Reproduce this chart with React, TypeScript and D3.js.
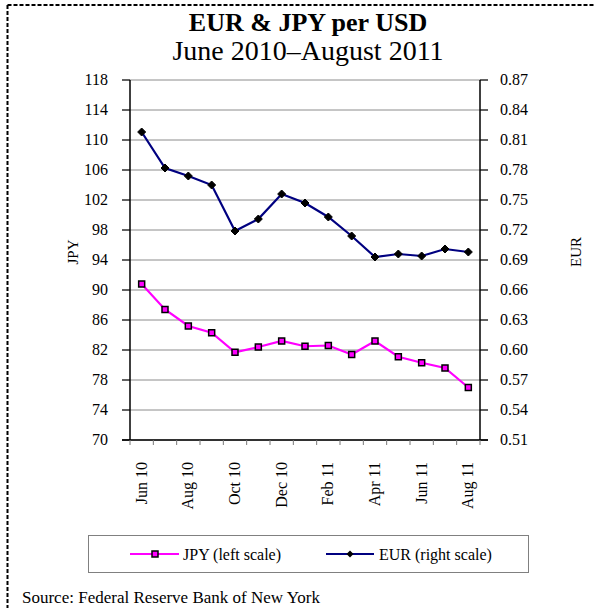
import React from "react";
import * as d3 from "d3";

const months = ["Jun 10","Jul 10","Aug 10","Sep 10","Oct 10","Nov 10","Dec 10","Jan 11","Feb 11","Mar 11","Apr 11","May 11","Jun 11","Jul 11","Aug 11"];
const jpy = [90.8, 87.4, 85.2, 84.3, 81.7, 82.4, 83.2, 82.5, 82.6, 81.4, 83.2, 81.1, 80.3, 79.6, 77.0];
const eur = [0.818, 0.782, 0.774, 0.765, 0.719, 0.731, 0.756, 0.747, 0.733, 0.714, 0.693, 0.696, 0.694, 0.701, 0.698];
const jpyTicks = [70, 74, 78, 82, 86, 90, 94, 98, 102, 106, 110, 114, 118];
const eurTicks = [0.51, 0.54, 0.57, 0.60, 0.63, 0.66, 0.69, 0.72, 0.75, 0.78, 0.81, 0.84, 0.87];

const FONT = "'Liberation Serif', 'Times New Roman', serif";

export default function App() {
  const W = 594, H = 608;
  const left = 130, right = 480, top = 80, bottom = 440;
  const x = d3.scaleBand<string>().domain(months).range([left, right]);
  const yL = d3.scaleLinear().domain([70, 118]).range([bottom, top]);
  const yR = d3.scaleLinear().domain([0.51, 0.87]).range([bottom, top]);
  const cx = (m: string) => (x(m) as number) + x.bandwidth() / 2;

  const lineJ = d3.line<number>().x((_, i) => cx(months[i])).y((d) => yL(d));
  const lineE = d3.line<number>().x((_, i) => cx(months[i])).y((d) => yR(d));

  const diamond = (px: number, py: number, r: number) =>
    `M${px},${py - r}L${px + r},${py}L${px},${py + r}L${px - r},${py}Z`;

  return (
    <div style={{ position: "absolute", left: 0, top: 0 }}>
      <svg width={W} height={H} style={{ display: "block", fontFamily: FONT }}>
        <rect x={0} y={0} width={W} height={H} fill="#fff" />
        {/* dashed frame */}
        <line x1={7.5} y1={5} x2={W} y2={5} stroke="#000" strokeWidth={2} strokeDasharray="4,2" />
        <line x1={7.5} y1={5} x2={7.5} y2={H} stroke="#000" strokeWidth={2} strokeDasharray="4,2" />

        {/* titles */}
        <text x={308} y={31} textAnchor="middle" fontSize={26} fontWeight="bold">EUR &amp; JPY per USD</text>
        <text x={308} y={60} textAnchor="middle" fontSize={28}>June 2010–August 2011</text>

        {/* gridlines and ticks */}
        {jpyTicks.map((t) => (
          <g key={"g" + t}>
            <line x1={left - 8} x2={right + 8} y1={yL(t)} y2={yL(t)} stroke="#8c8c8c" strokeWidth={1} />
            <line x1={left - 8} x2={left} y1={yL(t)} y2={yL(t)} stroke="#000" strokeWidth={1} />
            <line x1={right} x2={right + 8} y1={yL(t)} y2={yL(t)} stroke="#000" strokeWidth={1} />
            <text x={108} y={yL(t) + 5} textAnchor="end" fontSize={16}>{t}</text>
          </g>
        ))}
        {eurTicks.map((t) => (
          <text key={"r" + t} x={500} y={yR(t) + 5} textAnchor="start" fontSize={16}>{t.toFixed(2)}</text>
        ))}

        {/* axes */}
        <line x1={left} x2={left} y1={top} y2={bottom} stroke="#000" strokeWidth={1.5} />
        <line x1={right} x2={right} y1={top} y2={bottom} stroke="#000" strokeWidth={1.5} />
        <line x1={left - 8} x2={right + 8} y1={bottom} y2={bottom} stroke="#000" strokeWidth={1.5} />
        {months.map((m) => (
          <line key={"t" + m} x1={x(m) as number} x2={x(m) as number} y1={bottom} y2={bottom + 5} stroke="#777" strokeWidth={1} />
        ))}
        <line x1={right} x2={right} y1={bottom} y2={bottom + 5} stroke="#777" strokeWidth={1} />

        {/* x labels */}
        {months.map((m, i) =>
          i % 2 === 0 ? (
            <text key={"x" + m} transform={`translate(${cx(m) + 5},${bottom + 22}) rotate(-90)`} textAnchor="end" fontSize={16}>{m}</text>
          ) : null
        )}

        {/* axis titles */}
        <text transform={`translate(${78},${252}) rotate(-90)`} textAnchor="middle" fontSize={15}>JPY</text>
        <text transform={`translate(${581},${252}) rotate(-90)`} textAnchor="middle" fontSize={15}>EUR</text>

        {/* series */}
        <path d={lineE(eur) as string} fill="none" stroke="#000080" strokeWidth={2.2} />
        {eur.map((v, i) => (
          <path key={"e" + i} d={diamond(cx(months[i]), yR(v), 4)} fill="#000" stroke="#000" strokeWidth={1} />
        ))}
        <path d={lineJ(jpy) as string} fill="none" stroke="#ff00ff" strokeWidth={2.2} />
        {jpy.map((v, i) => (
          <rect key={"j" + i} x={cx(months[i]) - 3} y={yL(v) - 3} width={6} height={6} fill="#ff00ff" stroke="#000" strokeWidth={1.5} />
        ))}

        {/* legend */}
        <rect x={88.5} y={535.5} width={440} height={37} fill="#fff" stroke="#808080" strokeWidth={1} />
        <line x1={130} x2={179} y1={554} y2={554} stroke="#ff00ff" strokeWidth={2.2} />
        <rect x={152} y={551} width={6} height={6} fill="#ff00ff" stroke="#000" strokeWidth={1.5} />
        <text x={183} y={559.5} fontSize={16}>JPY (left scale)</text>
        <line x1={326} x2={374} y1={554} y2={554} stroke="#000080" strokeWidth={2.2} />
        <path d={diamond(350, 554, 3.5)} fill="#000" />
        <text x={379} y={559.5} fontSize={16}>EUR (right scale)</text>

        {/* source */}
        <text x={22} y={603} fontSize={17}>Source: Federal Reserve Bank of New York</text>
      </svg>
    </div>
  );
}
